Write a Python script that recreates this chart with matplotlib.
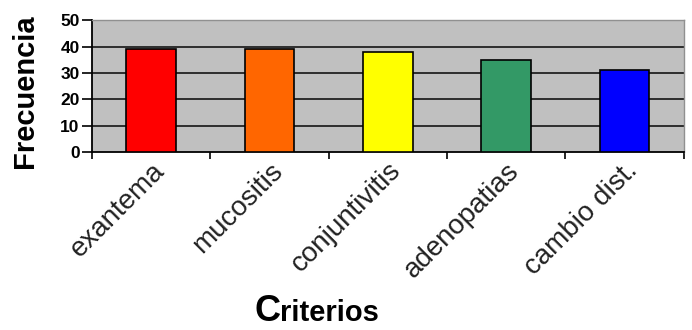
import matplotlib.pyplot as plt
import numpy as np

# --- Data ---
criterios = ["exantema", "mucositis", "conjuntivitis", "adenopatias", "cambio dist."]
frecuencia = [39, 39, 38, 35, 31]
colores = ["#FF0000", "#FF6600", "#FFFF00", "#339966", "#0000FF"]
y_ticks = [0, 10, 20, 30, 40, 50]

plt.rcParams['font.family'] = ['Liberation Sans', 'DejaVu Sans']

fig = plt.figure(figsize=(6.92, 3.30), dpi=100)
ax = fig.add_axes([0.133, 0.539, 0.855, 0.40])
ax.set_facecolor("#C0C0C0")

x = np.arange(len(criterios))
ax.bar(x, frecuencia, width=0.42, color=colores, edgecolor="black", linewidth=1.2, zorder=3)

ax.set_xlim(-0.5, len(criterios) - 0.5)
ax.set_ylim(0, 50)
ax.set_yticks(y_ticks)
ax.set_yticklabels([str(t) for t in y_ticks], fontsize=12.5, fontweight="bold",
                   family=['Liberation Sans Narrow', 'Liberation Sans'])
for t in y_ticks[1:-1]:
    ax.axhline(t, color="#222222", linewidth=1.3, zorder=1)

# category labels at bar centres, tick marks between categories
ax.set_xticks(x)
ax.set_xticklabels(criterios, rotation=45, ha="right", va="top",
                   rotation_mode="anchor", fontsize=20, color="#222222")
ax.tick_params(axis="x", which="major", length=0, pad=4)
ax.set_xticks(np.arange(-0.5, len(criterios)), minor=True)
ax.tick_params(axis="x", which="minor", length=5, width=1.2, direction="out")
ax.tick_params(axis="y", length=7, width=1.2, direction="out", pad=2)

for side in ["left", "bottom"]:
    ax.spines[side].set_color("black")
    ax.spines[side].set_linewidth(1.3)
for side in ["top", "right"]:
    ax.spines[side].set_color("#909090")
    ax.spines[side].set_linewidth(1.0)

fig.text(0.036, 0.725, "Frecuencia", rotation=90, ha="center", va="center",
         fontsize=21, fontweight="bold")
# axis title with an enlarged initial
fig.text(0.405, 0.028, "C", ha="right", va="baseline", fontsize=26,
         fontweight="bold")
fig.text(0.405, 0.028, "riterios", ha="left", va="baseline",
         fontsize=21, fontweight="bold")

fig.savefig("out.png", dpi=100)
